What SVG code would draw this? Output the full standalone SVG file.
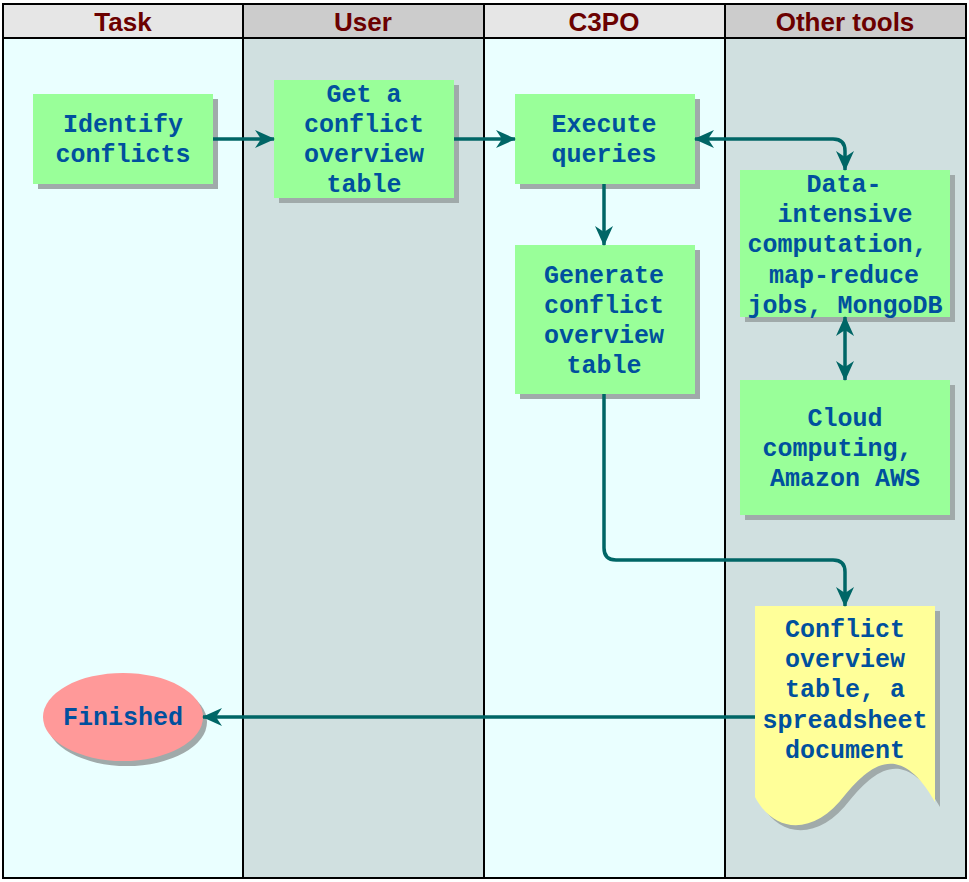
<svg xmlns="http://www.w3.org/2000/svg" width="969" height="882" viewBox="0 0 969 882">
<defs>
<style>
.lane-l{fill:#eaffff}
.lane-d{fill:#d0e0e0}
.hd-l{fill:#e6e6e6}
.hd-d{fill:#cccccc}
.hdt{font-family:"Liberation Sans",Arial,sans-serif;font-weight:bold;font-size:26px;fill:#6b0000;text-anchor:middle}
.box{fill:#99ff99}
.sh{fill:#a0aaaa}
.t{font-family:"Liberation Mono","Courier New",monospace;font-weight:bold;font-size:25px;fill:#00509e;text-anchor:middle}
.c{fill:none;stroke:#006666;stroke-width:3.5}
.grid{fill:none;stroke:#000;stroke-width:2}
</style>
<marker id="ah" viewBox="0 0 20 18" refX="19" refY="9" markerWidth="20" markerHeight="18" markerUnits="userSpaceOnUse" orient="auto-start-reverse">
<path d="M0,0 L20,9 L0,18 L6,9 Z" fill="#006666"/>
</marker>
</defs>

<g id="lanes">
<rect class="lane-l" x="3" y="38" width="240" height="840"/>
<rect class="lane-d" x="243" y="38" width="241" height="840"/>
<rect class="lane-l" x="484" y="38" width="241" height="840"/>
<rect class="lane-d" x="725" y="38" width="241" height="840"/>
<rect class="hd-l" x="3" y="4" width="240" height="34"/>
<rect class="hd-d" x="243" y="4" width="241" height="34"/>
<rect class="hd-l" x="484" y="4" width="241" height="34"/>
<rect class="hd-d" x="725" y="4" width="241" height="34"/>
<rect class="grid" x="3" y="4" width="963" height="874"/>
<line class="grid" x1="3" y1="38" x2="966" y2="38"/>
<line class="grid" x1="243" y1="4" x2="243" y2="878"/>
<line class="grid" x1="484" y1="4" x2="484" y2="878"/>
<line class="grid" x1="725" y1="4" x2="725" y2="878"/>
<text class="hdt" x="123" y="31">Task</text>
<text class="hdt" x="363" y="31">User</text>
<text class="hdt" x="604" y="31">C3PO</text>
<text class="hdt" x="845" y="31">Other tools</text>
</g>

<g id="n-identify">
<rect class="sh" x="38" y="99" width="180" height="90"/>
<rect class="box" x="33" y="94" width="180" height="90"/>
<text class="t" x="123"><tspan x="123" y="132">Identify</tspan><tspan x="123" y="162">conflicts</tspan></text>
</g>

<g id="n-get">
<rect class="sh" x="279" y="85" width="180" height="118"/>
<rect class="box" x="274" y="80" width="180" height="118"/>
<text class="t"><tspan x="364" y="102">Get a</tspan><tspan x="364" y="132">conflict</tspan><tspan x="364" y="162">overview</tspan><tspan x="364" y="192">table</tspan></text>
</g>

<g id="n-execute">
<rect class="sh" x="520" y="99" width="180" height="90"/>
<rect class="box" x="515" y="94" width="180" height="90"/>
<text class="t"><tspan x="604" y="132">Execute</tspan><tspan x="604" y="162">queries</tspan></text>
</g>

<g id="n-generate">
<rect class="sh" x="520" y="250" width="180" height="149"/>
<rect class="box" x="515" y="245" width="180" height="149"/>
<text class="t"><tspan x="604" y="283">Generate</tspan><tspan x="604" y="313">conflict</tspan><tspan x="604" y="343">overview</tspan><tspan x="604" y="373">table</tspan></text>
</g>

<g id="n-data">
<rect class="sh" x="745" y="175" width="210" height="147"/>
<rect class="box" x="740" y="170" width="210" height="147"/>
<text class="t"><tspan x="844" y="192">Data-</tspan><tspan x="845" y="222">intensive</tspan><tspan x="837.5" y="252">computation,</tspan><tspan x="844" y="283">map-reduce</tspan><tspan x="845" y="313">jobs, MongoDB</tspan></text>
</g>

<g id="n-cloud">
<rect class="sh" x="745" y="385" width="210" height="135"/>
<rect class="box" x="740" y="380" width="210" height="135"/>
<text class="t"><tspan x="845" y="426">Cloud</tspan><tspan x="837.5" y="456">computing,</tspan><tspan x="845" y="486">Amazon AWS</tspan></text>
</g>

<g id="n-doc">
<path class="sh" d="M760,611 H940 V807 C905,745 875,770 850,800 C820,840 780,840 760,802 Z"/>
<path fill="#ffff99" d="M755,606 H935 V802 C900,740 870,765 845,795 C815,835 775,835 755,797 Z"/>
<text class="t"><tspan x="845" y="637">Conflict</tspan><tspan x="845" y="667">overview</tspan><tspan x="845" y="697">table, a</tspan><tspan x="845" y="728">spreadsheet</tspan><tspan x="845" y="758">document</tspan></text>
</g>

<g id="n-finished">
<ellipse cx="127" cy="722" rx="80" ry="44" fill="#a0aaaa"/>
<ellipse cx="123" cy="717" rx="80" ry="44" fill="#ff9999"/>
<text class="t" x="123" y="725">Finished</text>
</g>

<g id="connectors">
<path class="c" d="M213,139 H274" marker-end="url(#ah)"/>
<path class="c" d="M454,139 H515" marker-end="url(#ah)"/>
<path class="c" d="M695,139 H833 Q845,139 845,151 V170" marker-start="url(#ah)" marker-end="url(#ah)"/>
<path class="c" d="M604,184 V245" marker-end="url(#ah)"/>
<path class="c" d="M845,317 V380" marker-start="url(#ah)" marker-end="url(#ah)"/>
<path class="c" d="M604,394 V548 Q604,560 616,560 H833 Q845,560 845,572 V606" marker-end="url(#ah)"/>
<path class="c" d="M755,717 H203" marker-end="url(#ah)"/>
</g>
</svg>
